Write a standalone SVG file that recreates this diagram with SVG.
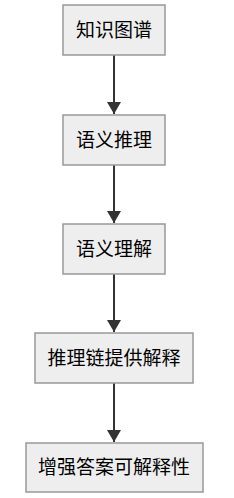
<svg xmlns="http://www.w3.org/2000/svg" width="234" height="498" viewBox="0 0 234 498">
<style>
.box{fill:#eeeeee;stroke:#999999;stroke-width:1.5}
.lbl{font-family:"Liberation Sans","Noto Sans CJK SC",sans-serif;font-size:19px;fill:#000;text-anchor:middle;dominant-baseline:central}
.edge{stroke:#333333;stroke-width:2;fill:none}
</style>
<defs>
<marker id="arr" markerWidth="6" markerHeight="7" refX="6" refY="3.5" orient="auto" markerUnits="strokeWidth"><path d="M0,0 L6,3.5 L0,7 z" fill="#333333"/></marker>
</defs>
<rect width="234" height="498" fill="#ffffff"/>
<g id="edges">
<line class="edge" x1="114" y1="55" x2="114" y2="114" marker-end="url(#arr)"/>
<line class="edge" x1="114" y1="165" x2="114" y2="223" marker-end="url(#arr)"/>
<line class="edge" x1="114" y1="274" x2="114" y2="332" marker-end="url(#arr)"/>
<line class="edge" x1="114" y1="383" x2="114" y2="442" marker-end="url(#arr)"/>
</g>
<g id="n1"><rect class="box" x="63" y="5" width="102" height="50"/><text class="lbl" x="114" y="30">知识图谱</text></g>
<g id="n2"><rect class="box" x="63" y="115" width="102" height="50"/><text class="lbl" x="114" y="140">语义推理</text></g>
<g id="n3"><rect class="box" x="63" y="224" width="102" height="50"/><text class="lbl" x="114" y="249">语义理解</text></g>
<g id="n4"><rect class="box" x="35" y="333" width="158" height="50"/><text class="lbl" x="114" y="358">推理链提供解释</text></g>
<g id="n5"><rect class="box" x="26" y="443" width="177" height="49"/><text class="lbl" x="114" y="467.5">增强答案可解释性</text></g>
</svg>
